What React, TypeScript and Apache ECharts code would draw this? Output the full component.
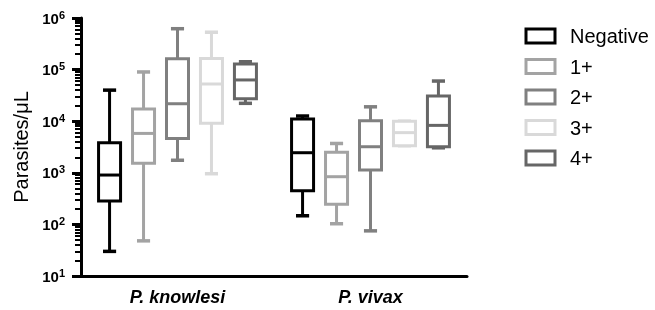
import React, { useEffect, useRef } from 'react';
import * as echarts from 'echarts';

const categories = ['P. knowlesi', 'P. vivax'];
const groupNames = ['Negative', '1+', '2+', '3+', '4+'];
// per group: [min, Q1, median, Q3, max] for each category
const negative = [
  [30, 285, 905, 3830, 40000],
  [147, 450, 2450, 11000, 12600],
];
const plus1 = [
  [48, 1530, 5800, 17200, 90000],
  [103, 245, 840, 2500, 3700],
];
const plus2 = [
  [1750, 4600, 21800, 163000, 620000],
  [75, 1130, 3200, 10200, 19000],
];
const plus3 = [
  [960, 9100, 52600, 165000, 530000],
  [3350, 3350, 6000, 10000, 10000],
];
const plus4 = [
  [22200, 27300, 63000, 128000, 142000],
  [3050, 3200, 8300, 30800, 60000],
];
const groupData = [negative, plus1, plus2, plus3, plus4];
const colors = ['#000000', '#a3a3a3', '#808080', '#d9d9d9', '#666666'];

const majorTicks = [10, 100, 1000, 10000, 100000, 1000000];
const minorMultipliers = [2, 3, 4, 5, 6, 7, 8, 9];
const minorTicks: number[] = [];
majorTicks.slice(0, -1).forEach((d) => minorMultipliers.forEach((m) => minorTicks.push(d * m)));

const FONT = '"Liberation Sans", Arial, Helvetica, sans-serif';

function makeRenderItem(si: number, color: string) {
  return (params: any, api: any) => {
    const cat = api.value(0);
    const band = api.size([1, 0], [cat, 100])[0];
    const off = (si - 2) * band * 0.176;
    const x = api.coord([cat, api.value(3)])[0] + off;
    const y = (v: number) => api.coord([cat, v])[1];
    const yMin = y(api.value(1));
    const yQ1 = y(api.value(2));
    const yMed = y(api.value(3));
    const yQ3 = y(api.value(4));
    const yMax = y(api.value(5));
    const hw = band * 0.057;
    const cw = band * 0.034;
    const ls = { stroke: color, lineWidth: 3, fill: null };
    const cs = { stroke: color, lineWidth: 3.5, fill: null };
    return {
      type: 'group',
      children: [
        { type: 'line', shape: { x1: x, y1: yMax, x2: x, y2: yQ3 }, style: ls },
        { type: 'line', shape: { x1: x, y1: yQ1, x2: x, y2: yMin }, style: ls },
        { type: 'line', shape: { x1: x - cw, y1: yMax, x2: x + cw, y2: yMax }, style: cs },
        { type: 'line', shape: { x1: x - cw, y1: yMin, x2: x + cw, y2: yMin }, style: cs },
        {
          type: 'rect',
          shape: { x: x - hw, y: yQ3, width: 2 * hw, height: yQ1 - yQ3 },
          style: { stroke: color, lineWidth: 3, fill: '#fff' },
        },
        { type: 'line', shape: { x1: x - hw, y1: yMed, x2: x + hw, y2: yMed }, style: ls },
      ],
    };
  };
}

export default function App() {
  const ref = useRef<HTMLDivElement>(null);
  useEffect(() => {
    if (!ref.current) return;
    const chart = echarts.init(ref.current, undefined, { renderer: 'svg' });
    const series: any[] = groupNames.map((name, si) => ({
      name,
      type: 'custom',
      renderItem: makeRenderItem(si, colors[si]),
      itemStyle: { color: colors[si] },
      encode: { x: 0, y: [1, 2, 3, 4, 5] },
      data: groupData[si].map((row, ci) => [ci, ...row]),
      z: 3,
    }));
    chart.setOption({
      animation: false,
      textStyle: { fontFamily: FONT },
      grid: { left: 81, right: 188, top: 18, bottom: 34, containLabel: false },
      legend: {
        left: 519.5,
        top: 21,
        orient: 'vertical',
        icon: 'rect',
        itemWidth: 29,
        itemHeight: 14,
        itemGap: 10.5,
        textStyle: { fontSize: 20, color: '#000', fontFamily: FONT, lineHeight: 17, padding: [0, 0, 0, 10] },
        data: groupNames.map((name, i) => ({
          name,
          itemStyle: { color: '#fff', borderColor: colors[i], borderWidth: 3 },
        })),
      },
      xAxis: {
        type: 'category',
        data: categories,
        axisLine: { lineStyle: { color: '#000', width: 3 } },
        axisTick: { alignWithLabel: true, length: 8, lineStyle: { color: '#000', width: 3 } },
        axisLabel: { fontSize: 18, fontWeight: 'bold', fontStyle: 'italic', color: '#000', margin: 12, fontFamily: FONT },
        splitLine: { show: false },
      },
      yAxis: [
        {
          type: 'log',
          logBase: 10,
          min: 10,
          max: 1000000,
          interval: 1,
          name: 'Parasites/μL',
          nameLocation: 'middle',
          nameGap: 50,
          nameTextStyle: { fontSize: 20, color: '#000', fontFamily: FONT },
          axisLine: { show: true, lineStyle: { color: '#000', width: 3 } },
          axisTick: { show: true, length: 9, lineStyle: { color: '#000', width: 3 } },
          axisLabel: {
            margin: 16,
            formatter: (v: number) => `{b|10}{s|${Math.round(Math.log10(v))}}`,
            rich: {
              b: { fontSize: 15, fontWeight: 'bold', color: '#000', fontFamily: FONT, lineHeight: 18 },
              s: { fontSize: 11, fontWeight: 'bold', color: '#000', fontFamily: FONT, verticalAlign: 'top', lineHeight: 12 },
            },
          },
          splitLine: { show: false },
        },
        {
          type: 'log',
          logBase: 10,
          min: 10,
          max: 1000000,
          position: 'left',
          axisLine: { show: false },
          axisTick: { show: true, length: 6, customValues: minorTicks, lineStyle: { color: '#000', width: 2 } },
          axisLabel: { show: false },
          splitLine: { show: false },
        },
      ],
      series,
    });
    return () => chart.dispose();
  }, []);
  return <div ref={ref} style={{ position: 'fixed', left: 0, top: 0, width: 655, height: 310 }} />;
}
